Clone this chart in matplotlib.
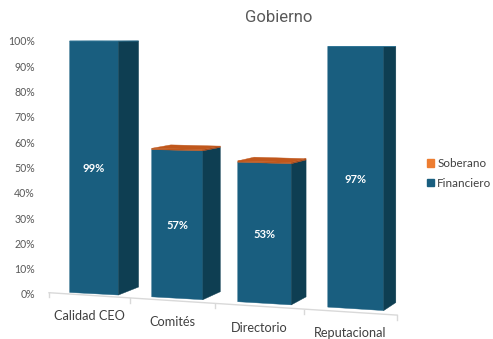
import matplotlib
matplotlib.use("Agg")
import matplotlib.pyplot as plt
from matplotlib.patches import Polygon, Patch

# data
categories = ["Calidad CEO", "Comités", "Directorio", "Reputacional"]
financiero = [99, 57, 53, 97]
soberano = [0, 0.5, 0.5, 0]
series_names = ["Soberano", "Financiero"]
y_ticks = list(range(0, 101, 10))
y_tick_labels = [f"{t}%" for t in y_ticks]

# colours
BLUE_FRONT = "#195e7f"
BLUE_SIDE = "#0e3e52"
BLUE_TOP = "#2a7294"
ORANGE = "#ed7d31"
ORANGE_FRONT = "#d8692a"
ORANGE_SIDE = "#a5481a"
ORANGE_TOP = "#c0571c"
TEXT_GREY = "#595959"
AXIS_GREY = "#d9d9d9"

W, H = 493, 339

# perspective model, in output pixels measured from the top left corner
ZERO_PX, FULL_PX = 294.0, 41.0
PX_PER_PCT = (ZERO_PX - FULL_PX) / 100
HORIZON_PX = 38.5
BAR_START, BAR_END = 0.26, 0.86
DEPTH_DY = 8.0


def slot_x(u):
    return 49 + 79 * u + 2 * u * u


def floor_px(u):
    return 291.4 + 4.0 * u + 0.25 * u * u


def axis_px(u):
    return 292.7 + 5.6 * u


def to_axes(ypx):
    return (ZERO_PX - ypx) / PX_PER_PCT


def project(u, w, v):
    yb = floor_px(u)
    y = yb - v / 100 * (yb - HORIZON_PX)
    x = slot_x(u) + w * (22.5 - 2.7 * u)
    y -= w * DEPTH_DY * (1 - v / 100)
    return x, to_axes(y)


plt.rcParams['font.family'] = ['Lato', 'DejaVu Sans']

fig = plt.figure(figsize=(W / 100, H / 100), dpi=100)
left = 38
ax = fig.add_axes([left / W, (H - ZERO_PX) / H, (W - left) / W, (ZERO_PX - FULL_PX) / H])
ax.set_xlim(left, W)
ax.set_ylim(0, 100)
for s in ax.spines.values():
    s.set_visible(False)
ax.set_xticks([])
ax.set_yticks(y_ticks)
ax.set_yticklabels(y_tick_labels)
ax.tick_params(axis='y', length=0, pad=2.2, labelsize=7.6, labelcolor=TEXT_GREY)

# floor axis line with ticks
n = len(categories)
ax.plot([slot_x(0), slot_x(n)], [to_axes(axis_px(0)), to_axes(axis_px(n))],
        color=AXIS_GREY, lw=1.0, clip_on=False, zorder=1)
for k in range(n + 1):
    ax.plot([slot_x(k), slot_x(k)], [to_axes(axis_px(k)), to_axes(axis_px(k) + 4.5)],
            color=AXIS_GREY, lw=1.0, clip_on=False, zorder=1)


def draw_box(i, v0, v1, front, side, top=None):
    uL, uR = i + BAR_START, i + BAR_END
    faces = [
        ([project(uL, 0, v0), project(uR, 0, v0), project(uR, 0, v1), project(uL, 0, v1)], front),
        ([project(uR, 0, v0), project(uR, 1, v0), project(uR, 1, v1), project(uR, 0, v1)], side),
    ]
    if top is not None:
        faces.append(([project(uL, 0, v1), project(uR, 0, v1), project(uR, 1, v1), project(uL, 1, v1)], top))
    for pts, c in faces:
        ax.add_patch(Polygon(pts, closed=True, facecolor=c, edgecolor=c, lw=0.3,
                             clip_on=False, zorder=3))


for i, (f, s) in enumerate(zip(financiero, soberano)):
    draw_box(i, 0, f, BLUE_FRONT, BLUE_SIDE, None if s > 0 else BLUE_TOP)
    if s > 0:
        draw_box(i, f, f + s, ORANGE_TOP, ORANGE_SIDE, ORANGE_TOP)
    # value label on the front face
    x, y = project(i + (BAR_START + BAR_END) / 2, 0, f / 2)
    ax.text(x, y - 0.6, f"{f}%", color="white", fontsize=8, fontweight='bold',
            ha='center', va='center', zorder=5)
    # category label
    u = i + 0.5
    ax.text(slot_x(u), to_axes(axis_px(u) + 21), categories[i], color="#404040",
            fontsize=9.2, ha='center', va='center', clip_on=False)

ax.legend(handles=[Patch(color=ORANGE), Patch(color=BLUE_FRONT)], labels=series_names,
          loc='center left', bbox_to_anchor=(421 / W, 1 - 173.5 / H),
          bbox_transform=fig.transFigure, frameon=False, borderpad=0,
          handlelength=0.6, handleheight=0.6, handletextpad=0.3,
          labelspacing=0.75, fontsize=8.4, labelcolor="#404040")

fig.text(279 / W, 1 - 17.5 / H, "Gobierno", ha='center', va='center',
         fontsize=12, color=TEXT_GREY, family=['Roboto', 'DejaVu Sans'])

fig.savefig("out.png", dpi=100, facecolor="white")
